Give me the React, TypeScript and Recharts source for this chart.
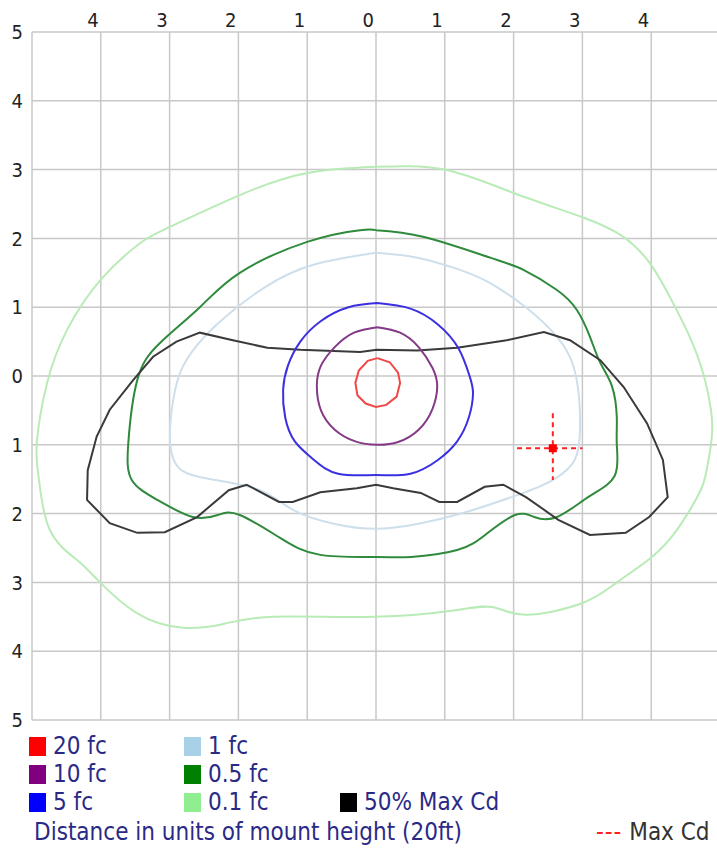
import React from "react";
import { ScatterChart, Scatter, XAxis, YAxis, CartesianGrid } from "recharts";

type Pt = [number, number];

// axis ticks, in units of mount height (labels show the absolute value)
const xTicks = [-5, -4, -3, -2, -1, 0, 1, 2, 3, 4, 5];
const yTicks = [-5, -4, -3, -2, -1, 0, 1, 2, 3, 4, 5];

// iso-footcandle contours, [x, y]
const fc20: Pt[] = [
  [0.02, 0.26], [0.2, 0.2], [0.32, 0.05], [0.35, -0.1], [0.3, -0.3], [0.15, -0.42],
  [0.0, -0.45], [-0.15, -0.4], [-0.27, -0.28], [-0.3, -0.1], [-0.25, 0.08], [-0.12, 0.22],
  [0.02, 0.26],
];

const fc10: Pt[] = [
  [0.02, 0.71], [0.35, 0.63], [0.62, 0.42], [0.82, 0.12], [0.89, -0.15], [0.82, -0.48],
  [0.62, -0.78], [0.32, -0.96], [0.02, -1.0], [-0.3, -0.95], [-0.6, -0.78], [-0.8, -0.5],
  [-0.86, -0.15], [-0.8, 0.15], [-0.6, 0.42], [-0.32, 0.63], [0.02, 0.71],
];

const fc5: Pt[] = [
  [0.02, 1.06], [0.5, 0.98], [0.9, 0.75], [1.2, 0.4], [1.36, 0.0], [1.41, -0.25],
  [1.35, -0.6], [1.18, -0.95], [0.9, -1.22], [0.5, -1.42], [0.0, -1.44], [-0.55, -1.42],
  [-0.9, -1.22], [-1.18, -0.95], [-1.32, -0.6], [-1.35, -0.2], [-1.28, 0.15], [-1.1, 0.5],
  [-0.8, 0.8], [-0.4, 1.0], [0.02, 1.06],
];

const fc1: Pt[] = [
  [0, 1.79], [0.6, 1.72], [1.2, 1.55], [1.66, 1.35], [2.2, 0.98], [2.63, 0.57],
  [2.85, 0.2], [2.95, -0.3], [2.96, -0.9], [2.85, -1.28], [2.5, -1.55], [2.0, -1.75],
  [1.3, -1.98], [0.6, -2.15], [0, -2.22], [-0.6, -2.15], [-1.2, -1.95], [-1.69, -1.66],
  [-2.4, -1.5], [-2.85, -1.35], [-2.99, -1.0], [-2.97, -0.5], [-2.85, 0.04], [-2.6, 0.45],
  [-2.2, 0.85], [-1.6, 1.3], [-0.9, 1.62], [0, 1.79],
];

const fc05: Pt[] = [
  [0, 2.12], [0.7, 2.02], [1.66, 1.72], [2.15, 1.54], [2.63, 1.25], [2.92, 0.96],
  [3.11, 0.57], [3.26, 0.19], [3.43, -0.15], [3.5, -0.6], [3.5, -1.0], [3.47, -1.45],
  [3.1, -1.75], [2.63, -2.05], [2.3, -2.05], [2.02, -2.02], [1.6, -2.3], [1.18, -2.53],
  [0.51, -2.63], [0, -2.63], [-0.81, -2.6], [-1.4, -2.35], [-1.98, -2.02], [-2.3, -2.02],
  [-2.66, -2.05], [-3.18, -1.8], [-3.55, -1.51], [-3.6, -0.97], [-3.47, -0.06],
  [-3.14, 0.48], [-2.56, 1.0], [-1.98, 1.5], [-1.0, 1.95], [-0.23, 2.12], [0, 2.12],
];

const fc01: Pt[] = [
  [0, 3.04], [0.99, 3.0], [2.0, 2.66], [3.02, 2.3], [3.6, 2.02], [3.98, 1.64],
  [4.27, 1.15], [4.56, 0.57], [4.77, -0.01], [4.87, -0.5], [4.88, -0.9], [4.8, -1.4],
  [4.7, -1.7], [4.4, -2.2], [4.01, -2.63], [3.5, -3.0], [3.0, -3.3], [2.18, -3.47],
  [1.71, -3.36], [1.18, -3.4], [0, -3.5], [-1.48, -3.5], [-2.2, -3.6], [-2.8, -3.66],
  [-3.47, -3.45], [-4.04, -2.97], [-4.35, -2.67], [-4.74, -2.24], [-4.9, -1.5],
  [-4.93, -0.97], [-4.78, -0.1], [-4.49, 0.67], [-4.0, 1.4], [-3.43, 1.93], [-2.99, 2.17],
  [-1.98, 2.63], [-1.0, 2.95], [0, 3.04],
];

const halfMaxCd: Pt[] = [
  [-3.53, -0.06], [-3.24, 0.28], [-2.9, 0.5], [-2.56, 0.63], [-2.08, 0.52], [-1.58, 0.41],
  [-1.1, 0.38], [-0.23, 0.35], [0.01, 0.38], [0.6, 0.37], [1.18, 0.41], [1.9, 0.52],
  [2.44, 0.64], [2.82, 0.52], [3.26, 0.23], [3.6, -0.16], [3.94, -0.69], [4.17, -1.22],
  [4.24, -1.76], [3.97, -2.05], [3.63, -2.28], [3.11, -2.31], [2.65, -2.09], [2.18, -1.76],
  [1.85, -1.58], [1.58, -1.61], [1.18, -1.83], [0.92, -1.83], [0.65, -1.7], [0.25, -1.63],
  [0, -1.58], [-0.28, -1.63], [-0.81, -1.69], [-1.21, -1.83], [-1.41, -1.83], [-1.88, -1.58],
  [-2.14, -1.66], [-2.6, -2.05], [-3.07, -2.27], [-3.47, -2.28], [-3.87, -2.14], [-4.2, -1.8],
  [-4.19, -1.37], [-4.06, -0.88], [-3.87, -0.49], [-3.53, -0.06],
];

// max candela position and its dashed cross
const maxCd: Pt[] = [[2.57, -1.05]];
const maxCdH: Pt[] = [[2.05, -1.05], [3.0, -1.05]];
const maxCdV: Pt[] = [[2.57, -0.54], [2.57, -1.51]];

const contours = [
  { key: "fc01", points: fc01, color: "#b9ebb6", curve: "natural" },
  { key: "fc05", points: fc05, color: "#2f8a3c", curve: "natural" },
  { key: "fc1", points: fc1, color: "#cddfeb", curve: "natural" },
  { key: "half", points: halfMaxCd, color: "#3a3a3a", curve: "linear" },
  { key: "fc5", points: fc5, color: "#3b30e0", curve: "natural" },
  { key: "fc10", points: fc10, color: "#843a86", curve: "natural" },
  { key: "fc20", points: fc20, color: "#f04848", curve: "linear" },
];

const legendCols = [
  [
    { label: "20 fc", color: "#ff0000" },
    { label: "10 fc", color: "#800080" },
    { label: "5 fc", color: "#0000ff" },
  ],
  [
    { label: "1 fc", color: "#a8d0e6" },
    { label: "0.5 fc", color: "#008000" },
    { label: "0.1 fc", color: "#90ee90" },
  ],
  [null, null, { label: "50% Max Cd", color: "#000000" }],
];

const FONT = '"DejaVu Sans Condensed", "DejaVu Sans", sans-serif';
const TEXT = "#2a2a86";

const toXY = (pts: Pt[]) => pts.map(([x, y]) => ({ x, y }));
const NoDot = () => <g />;

const TopTick = (props: any) => {
  const { x, y, payload } = props;
  if (Math.abs(payload.value) === 5) return <g />;
  return (
    <text x={x - 2} y={y} textAnchor="end" fill="#222" fontSize={20} fontFamily={FONT}>
      {Math.abs(payload.value)}
    </text>
  );
};

const LeftTick = (props: any) => {
  const { x, y, payload } = props;
  return (
    <text x={x} y={y} dy="0.36em" textAnchor="end" fill="#222" fontSize={20} fontFamily={FONT}>
      {Math.abs(payload.value)}
    </text>
  );
};

const MaxCdDot = (props: any) => (
  <rect x={props.cx - 4} y={props.cy - 4} width={8} height={8} fill="#ff0000" />
);

export default function App() {
  const colX = [29, 184, 340];
  const rowY = [732, 760, 788];
  return (
    <div
      style={{
        position: "absolute",
        left: 0,
        top: 0,
        width: 717,
        height: 854,
        overflow: "hidden",
        background: "#fff",
        fontFamily: FONT,
      }}
    >
      <ScatterChart width={720} height={744} margin={{ top: 0, right: 0, bottom: 24, left: 0 }}>
        <CartesianGrid stroke="#c8c8c8" strokeWidth={1.5} />
        <XAxis
          type="number"
          dataKey="x"
          orientation="top"
          domain={[-5, 5]}
          ticks={xTicks}
          interval={0}
          height={32}
          tickSize={0}
          tickMargin={5}
          axisLine={false}
          tickLine={false}
          tick={<TopTick />}
          allowDataOverflow
        />
        <YAxis
          type="number"
          dataKey="y"
          domain={[-5, 5]}
          ticks={yTicks}
          interval={0}
          width={32}
          tickSize={0}
          tickMargin={9}
          axisLine={false}
          tickLine={false}
          tick={<LeftTick />}
          allowDataOverflow
        />
        {contours.map((c) => (
          <Scatter
            key={c.key}
            data={toXY(c.points)}
            line={{ stroke: c.color, strokeWidth: 2 }}
            lineType="joint"
            lineJointType={c.curve as any}
            shape={NoDot}
            isAnimationActive={false}
          />
        ))}
        <Scatter
          data={toXY(maxCdH)}
          line={{ stroke: "#ff2020", strokeWidth: 2, strokeDasharray: "5 4" }}
          lineType="joint"
          shape={NoDot}
          isAnimationActive={false}
        />
        <Scatter
          data={toXY(maxCdV)}
          line={{ stroke: "#ff2020", strokeWidth: 2, strokeDasharray: "5 4" }}
          lineType="joint"
          shape={NoDot}
          isAnimationActive={false}
        />
        <Scatter data={toXY(maxCd)} shape={MaxCdDot} isAnimationActive={false} />
      </ScatterChart>

      {legendCols.map((col, ci) =>
        col.map((item, ri) =>
          item ? (
            <div
              key={`${ci}-${ri}`}
              style={{
                position: "absolute",
                left: colX[ci],
                top: rowY[ri],
                height: 28,
                lineHeight: "28px",
                display: "flex",
                alignItems: "center",
                fontSize: 24,
                color: TEXT,
                whiteSpace: "nowrap",
              }}
            >
              <span style={{ width: 17, height: 19, background: item.color, marginRight: 7 }} />
              {item.label}
            </div>
          ) : null
        )
      )}
      <div
        style={{
          position: "absolute",
          left: 34,
          top: 818,
          lineHeight: "28px",
          fontSize: 24,
          color: TEXT,
          whiteSpace: "nowrap",
        }}
      >
        Distance in units of mount height (20ft)
      </div>
      <div
        style={{
          position: "absolute",
          left: 596,
          top: 818,
          lineHeight: "28px",
          fontSize: 24,
          color: "#333",
          whiteSpace: "nowrap",
        }}
      >
        <span style={{ color: "#ff2020", letterSpacing: 1 }}>---</span> Max Cd
      </div>
    </div>
  );
}
